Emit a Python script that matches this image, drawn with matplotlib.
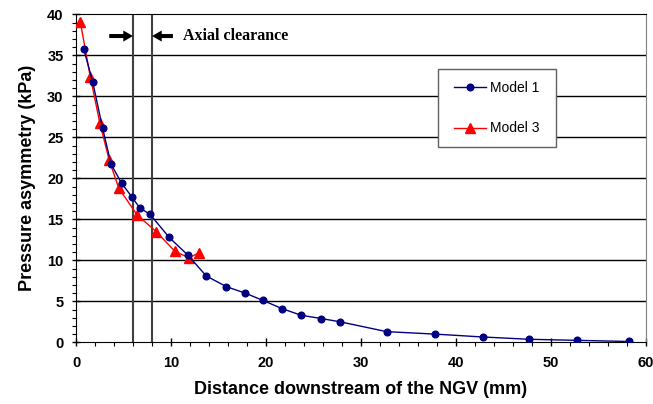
import matplotlib.pyplot as plt
from matplotlib.patches import Rectangle
from matplotlib.ticker import MultipleLocator

# Model 1 - pressure asymmetry downstream of the NGV
model1_x = [0.8, 1.75, 2.8, 3.7, 4.8, 5.9, 6.7, 7.8, 9.8, 11.8, 13.7, 15.8, 17.8,
            19.7, 21.7, 23.7, 25.8, 27.8, 32.7, 37.8, 42.8, 47.7, 52.7, 58.2]
model1_y = [35.8, 31.8, 26.1, 21.7, 19.4, 17.7, 16.4, 15.6, 12.8, 10.6, 8.1, 6.8, 6.0,
            5.1, 4.1, 3.3, 2.9, 2.5, 1.3, 1.0, 0.65, 0.37, 0.24, 0.1]

# Model 3
model3_x = [0.45, 1.5, 2.5, 3.5, 4.5, 6.45, 8.45, 10.4, 11.9, 12.9]
model3_y = [39.1, 32.4, 26.8, 22.2, 18.8, 15.5, 13.5, 11.1, 10.3, 10.9]

# axial clearance limits (mm)
clearance = [6, 8]

plt.rcParams['font.family'] = ['Liberation Sans', 'DejaVu Sans']

fig = plt.figure(figsize=(6.53, 4.04), dpi=100)
ax = fig.add_axes([0.1164, 0.1527, 0.8729, 0.8119])

for yv in range(5, 40, 5):
    ax.axhline(yv, color='k', lw=1.0, zorder=1)

for xv in clearance:
    ax.axvline(xv, color='#404040', lw=1.5, zorder=2)

ax.plot(model1_x, model1_y, '-o', color='#000080', lw=1.0, markersize=4.8,
        label='Model 1', zorder=4)
ax.plot(model3_x, model3_y, '-^', color='#FF0000', lw=1.0, markersize=6.5,
        label='Model 3', zorder=3)

# arrows marking the axial clearance
arrow_y = 37.35
ax.annotate('', xy=(clearance[0], arrow_y), xytext=(3.5, arrow_y),
            arrowprops=dict(facecolor='k', edgecolor='none', width=2.9,
                            headwidth=8, headlength=7, shrink=0))
ax.annotate('', xy=(clearance[1], arrow_y), xytext=(10.2, arrow_y),
            arrowprops=dict(facecolor='k', edgecolor='none', width=2.9,
                            headwidth=8, headlength=7, shrink=0))
ax.text(11.3, arrow_y, 'Axial clearance', fontsize=11.5, fontweight='bold',
        family='Liberation Serif', va='center', ha='left')

ax.set_xlim(0, 60)
ax.set_ylim(0, 40)
ax.xaxis.set_major_locator(MultipleLocator(10))
ax.xaxis.set_minor_locator(MultipleLocator(2))
ax.yaxis.set_major_locator(MultipleLocator(5))
ax.yaxis.set_minor_locator(MultipleLocator(1))
ax.tick_params(axis='both', which='major', labelsize=10.5, direction='inout',
               length=6, width=1, color='k')
ax.tick_params(axis='both', which='minor', direction='out', length=3, width=0.8)
ax.tick_params(axis='x', which='major', pad=7)
ax.tick_params(axis='y', which='major', pad=6)
for lab in ax.get_xticklabels() + ax.get_yticklabels():
    lab.set_fontweight('bold')

ax.spines['left'].set_color('k')
ax.spines['bottom'].set_color('k')
ax.spines['top'].set_color('k')
ax.spines['right'].set_color('#808080')

ax.set_xlabel('Distance downstream of the NGV (mm)', fontsize=13,
              fontweight='bold', labelpad=8)
ax.set_ylabel('Pressure asymmetry (kPa)', fontsize=13, fontweight='bold',
              labelpad=8)

# legend box drawn over the gridlines
box = Rectangle((38.1, 23.8), 12.4, 9.5, facecolor='white', edgecolor='#606060',
                lw=1.0, zorder=5)
ax.add_patch(box)
leg = ax.legend(loc='center', bbox_to_anchor=(38.1, 23.8, 12.4, 9.5),
                bbox_transform=ax.transData, fontsize=10, frameon=False,
                handlelength=2.3, handletextpad=0.25, labelspacing=1.9,
                borderpad=0, borderaxespad=0)
leg.set_zorder(6)

fig.savefig('out.png', dpi=100)
